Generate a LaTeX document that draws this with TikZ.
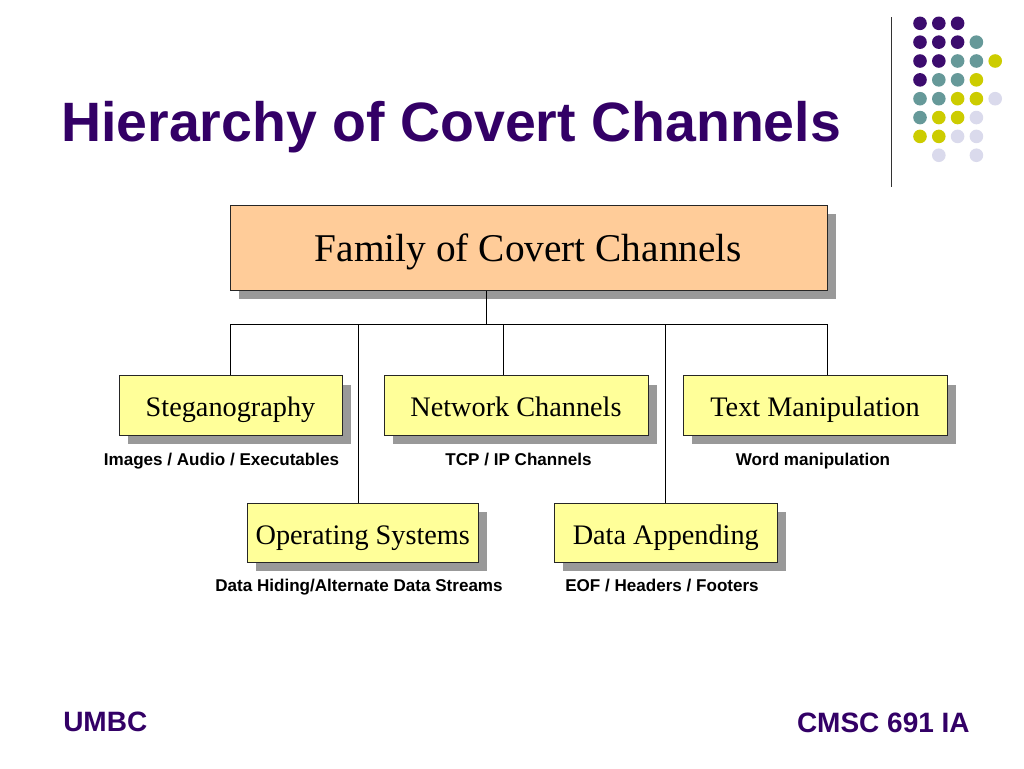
\documentclass[tikz,border=0pt]{standalone}
\usepackage{fontspec}
\setmainfont{Liberation Serif}
\newfontfamily\arialfont{Liberation Sans}
\usetikzlibrary{shadows}
\definecolor{titlepurple}{RGB}{51,0,102}
\definecolor{dotpurple}{RGB}{60,12,110}
\definecolor{dotteal}{RGB}{102,153,153}
\definecolor{dotyellow}{RGB}{204,204,0}
\definecolor{dotlav}{RGB}{218,218,236}
\definecolor{peach}{RGB}{255,204,153}
\definecolor{paleyellow}{RGB}{255,255,153}
\definecolor{shadowgray}{RGB}{153,153,153}
\tikzset{
  shadowed/.style={drop shadow={fill=shadowgray,opacity=1,shadow xshift=6.75pt,shadow yshift=-6.75pt}},
  topbox/.style={draw=black!85,line width=0.75pt,fill=peach,shadowed,rectangle,inner sep=0pt,
    minimum width=447.75pt,minimum height=63.75pt,font=\fontsize{29.5pt}{32pt}\selectfont,
    text height=21.3pt,text depth=0pt},
  catbox/.style={draw=black!85,line width=0.75pt,fill=paleyellow,shadowed,rectangle,inner sep=0pt,
    minimum height=44.5pt,font=\fontsize{21.2pt}{24pt}\selectfont,
    text height=17pt,text depth=0pt},
  note/.style={font=\arialfont\bfseries\fontsize{12.8pt}{15pt}\selectfont,inner sep=0pt,anchor=base},
  link/.style={draw=black,line width=0.75pt},
  dotP/.style={fill=dotpurple},
  dotT/.style={fill=dotteal},
  dotY/.style={fill=dotyellow},
  dotL/.style={fill=dotlav},
}
\begin{document}
\begin{tikzpicture}[x=0.75pt,y=-0.75pt]
\useasboundingbox (0,0) rectangle (1024,768);
\fill[white] (0,0) rectangle (1024,768);

% title
\node[anchor=base west,inner sep=0pt,text=titlepurple,font=\arialfont\bfseries\fontsize{41.6pt}{46pt}\selectfont] (title) at (61,141.7) {Hierarchy of Covert Channels};

% separator line and dots
\draw[black!80,line width=0.9pt] (891.7,17) -- (891.7,187);
\foreach \r/\cols in {0/{0/P,1/P,2/P},1/{0/P,1/P,2/P,3/T},2/{0/P,1/P,2/T,3/T,4/Y},3/{0/P,1/T,2/T,3/Y},4/{0/T,1/T,2/Y,3/Y,4/L},5/{0/T,1/Y,2/Y,3/L},6/{0/Y,1/Y,2/L,3/L},7/{1/L,3/L}}{
  \foreach \c/\s in \cols {
    \fill[dot\s] ({920+18.8*\c},{23.3+18.85*\r}) circle[radius=6.8];
  }
}

% boxes
\node[topbox] (fam) at (528.5,247.5) {Family of Covert Channels};
\node[catbox,minimum width=167.25pt] (steg) at (230.5,405.5) {Steganography};
\node[catbox,minimum width=198pt] (net) at (516,405.5) {Network Channels};
\node[catbox,minimum width=198pt] (txt) at (815,405.5) {Text Manipulation};
\node[catbox,minimum width=173.25pt] (os) at (362.8,532.8) {Operating Systems};
\node[catbox,minimum width=167.25pt] (dat) at (665.8,532.8) {Data Appending};

% notes
\node[note] (nsteg) at (221.5,465) {Images / Audio / Executables};
\node[note] (nnet) at (518.5,465) {TCP / IP Channels};
\node[note] (ntxt) at (813,465) {Word manipulation};
\node[note] (nos) at (359,591.5) {Data Hiding/Alternate Data Streams};
\node[note] (ndat) at (662,591.5) {EOF / Headers / Footers};

% connectors
\coordinate (j0) at (486.7,324.3);
\coordinate (jS) at (230,324.3);
\coordinate (jO) at (358.3,324.3);
\coordinate (jN) at (503.3,324.3);
\coordinate (jD) at (665.7,324.3);
\coordinate (jT) at (827,324.3);
\draw[link] (fam.south -| j0) -- (j0);
\draw[link] (jS) -- (jT);
\draw[link] (jS) -- (jS |- steg.north);
\draw[link] (jO) -- (jO |- os.north);
\draw[link] (jN) -- (jN |- net.north);
\draw[link] (jD) -- (jD |- dat.north);
\draw[link] (jT) -- (jT |- txt.north);

% footer
\node[anchor=base west,inner sep=0pt,text=titlepurple,font=\arialfont\bfseries\fontsize{21pt}{24pt}\selectfont] (umbc) at (63,731.7) {UMBC};
\node[anchor=base east,inner sep=0pt,text=titlepurple,font=\arialfont\bfseries\fontsize{21pt}{24pt}\selectfont] (cmsc) at (970,732.5) {CMSC 691 IA};
\end{tikzpicture}
\end{document}
